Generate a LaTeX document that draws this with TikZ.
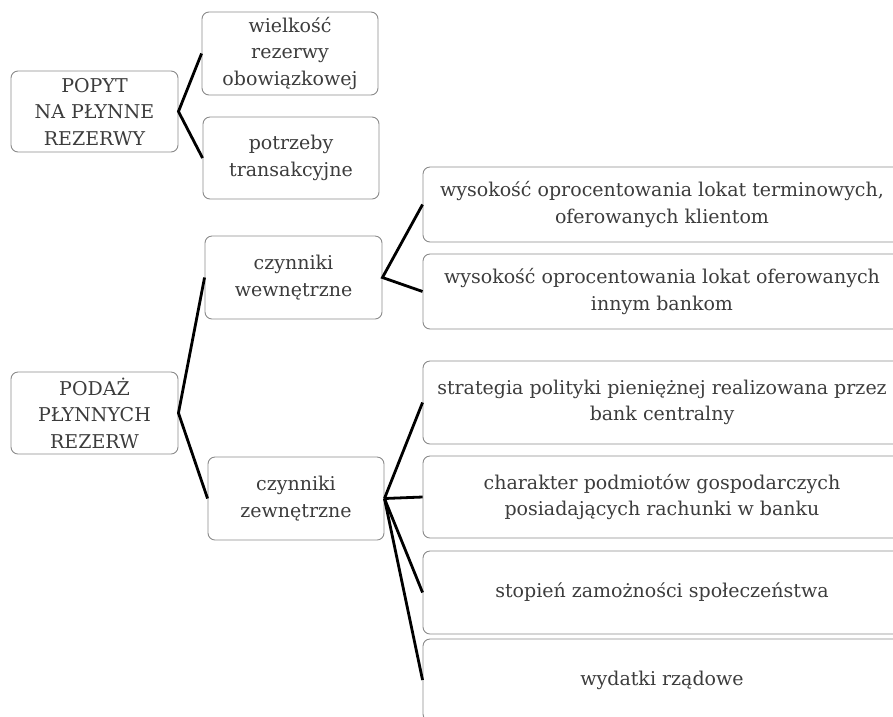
\documentclass[tikz,border=0pt]{standalone}
\usepackage{fontspec}
\setmainfont{DejaVu Serif}
\definecolor{boxline}{HTML}{8A8A8A}
\definecolor{txt}{HTML}{3C3C3C}
\tikzset{
  box/.style={draw=boxline, line width=0.9pt, rounded corners=7pt, rectangle,
    align=center, text=txt, inner sep=0pt,
    font=\fontsize{19}{26.5}\selectfont},
  link/.style={draw=black, line width=2.8pt}
}
\begin{document}
\begin{tikzpicture}[x=1pt,y=-1pt]
\useasboundingbox (0,0) rectangle (893,716);
\clip (0,0) rectangle (893,716);
\node[box, minimum width=167pt, minimum height=81pt] (popyt) at (94.5,111.5) {POPYT\\NA PŁYNNE\\REZERWY};
\node[box, minimum width=176pt, minimum height=83pt] (wielk) at (290,53.5) {wielkość\\rezerwy\\obowiązkowej};
\node[box, minimum width=176pt, minimum height=82pt] (potrz) at (291,158) {potrzeby\\transakcyjne};
\node[box, minimum width=177pt, minimum height=83pt] (czwew) at (293.5,277.5) {czynniki\\wewnętrzne};
\node[box, minimum width=478pt, minimum height=75pt] (wys1) at (662,204.5) {wysokość oprocentowania lokat terminowych,\\oferowanych klientom};
\node[box, minimum width=478pt, minimum height=75pt] (wys2) at (662,291.5) {wysokość oprocentowania lokat oferowanych\\innym bankom};
\node[box, minimum width=167pt, minimum height=82pt] (podaz) at (94.5,413) {PODAŻ\\PŁYNNYCH\\REZERW};
\node[box, minimum width=176pt, minimum height=83pt] (czzew) at (296,498.5) {czynniki\\zewnętrzne};
\node[box, minimum width=478pt, minimum height=83pt] (strat) at (662,402.5) {strategia polityki pieniężnej realizowana przez\\bank centralny};
\node[box, minimum width=478pt, minimum height=82pt] (char) at (662,497) {charakter podmiotów gospodarczych\\posiadających rachunki w banku};
\node[box, minimum width=478pt, minimum height=83pt] (stop) at (662,592.5) {stopień zamożności społeczeństwa};
\node[box, minimum width=478pt, minimum height=82pt] (wyd) at (662,680) {wydatki rządowe};
\draw[link] (wielk.west) -- (popyt.east) -- (potrz.west);
\draw[link] (czwew.west) -- (podaz.east) -- (czzew.west);
\draw[link] (wys1.west) -- (czwew.east) -- (wys2.west);
\draw[link] (czzew.east) -- (strat.west);
\draw[link] (czzew.east) -- (char.west);
\draw[link] (czzew.east) -- (stop.west);
\draw[link] (czzew.east) -- (wyd.west);
\end{tikzpicture}
\end{document}
